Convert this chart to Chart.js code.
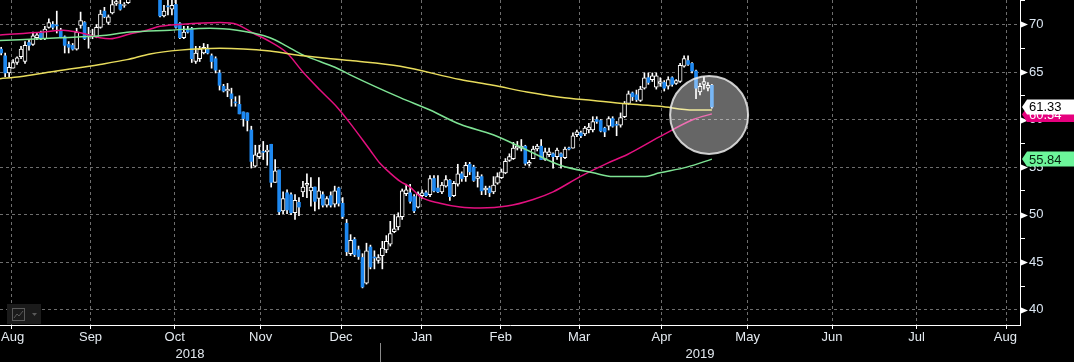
<!DOCTYPE html>
<html>
<head>
<meta charset="utf-8">
<script src="https://cdn.jsdelivr.net/npm/chart.js@4.4.1/dist/chart.umd.min.js"></script>
<style>
  html, body { margin: 0; padding: 0; background: #000; }
  #wrap { width: 1074px; height: 362px; }
</style>
</head>
<body>
<div id="wrap"><canvas id="chart" width="1074" height="362"></canvas></div>
<script>
// daily candles, mid Aug 2018 -> early May 2019 (index = trading day)
const opens = [
  67.4, 66.7, 64.9, 65.4, 66.0, 66.6, 66.1, 68.1, 67.9, 68.6,
  69.1, 68.5, 69.7, 70.0, 69.95, 69.4, 68.7, 67.9, 67.8, 67.4,
  69.9, 70.2, 68.9, 68.8, 68.7, 69.7, 71.4, 70.2, 71.2, 72.2,
  72.1, 72.0, 72.3, 72.8, 73.4, 73.9, 73.6, 74.1, 73.8, 74.2,
  73.4, 70.9, 71.95, 71.6, 72.1, 70.1, 68.6, 69.5, 69.6, 66.1,
  66.4, 67.0, 67.4, 66.7, 66.4, 64.9, 63.5, 63.0, 62.7, 61.85,
  61.6, 60.8, 60.7, 58.9, 55.1, 56.1, 56.65, 56.6, 57.4, 53.4,
  54.7, 50.4, 52.3, 52.1, 50.2, 51.3, 52.4, 53.1, 52.5, 52.9,
  51.7, 52.1, 51.0, 52.0, 51.1, 52.8, 51.2, 49.1, 45.9, 47.4,
  46.3, 45.5, 42.8, 46.6, 45.55, 45.2, 45.7, 46.3, 46.9, 48.2,
  48.7, 49.8, 52.2, 52.3, 51.9, 50.8, 52.0, 52.3, 52.1, 53.8,
  52.8, 52.4, 53.0, 53.6, 52.0, 53.2, 54.3, 54.0, 55.3, 55.0,
  53.8, 54.0, 52.6, 52.8, 52.4, 53.3, 53.9, 54.4, 55.7, 55.9,
  57.0, 57.0, 57.2, 55.3, 55.9, 56.9, 57.2, 55.8, 56.3, 56.4,
  56.1, 56.4, 56.0, 57.0, 57.0, 58.4, 58.6, 58.5, 58.9, 58.9,
  60.0, 59.9, 59.1, 59.3, 60.1, 59.5, 59.4, 60.3, 61.7, 62.8,
  62.6, 62.0, 63.3, 64.4, 64.2, 63.4, 63.8, 63.9, 63.5, 64.4,
  63.8, 64.0, 65.6, 66.2, 65.9, 65.1, 62.9, 63.7, 63.3, 63.6
];
const highs = [
  67.6, 67.0, 66.0, 66.3, 66.6, 67.7, 68.2, 68.4, 69.2, 69.1,
  69.3, 69.8, 70.6, 70.3, 71.4, 69.6, 68.8, 68.2, 68.0, 69.6,
  71.3, 70.3, 69.7, 69.5, 70.0, 71.5, 71.8, 71.0, 72.6, 72.8,
  72.8, 72.3, 73.0, 73.6, 74.2, 74.3, 74.5, 74.4, 74.6, 74.4,
  73.6, 72.0, 72.7, 72.7, 72.7, 70.2, 69.8, 69.8, 69.7, 67.7,
  67.7, 68.0, 67.9, 66.9, 66.6, 65.2, 63.7, 63.8, 63.3, 62.4,
  62.5, 60.8, 60.7, 59.3, 57.3, 57.3, 57.7, 57.3, 57.4, 55.8,
  54.7, 52.4, 52.6, 52.3, 52.1, 51.8, 53.5, 54.3, 53.9, 52.9,
  53.9, 52.4, 51.9, 52.4, 53.0, 52.9, 51.8, 49.5, 47.9, 47.6,
  46.7, 45.9, 47.0, 46.8, 46.2, 45.8, 47.2, 47.8, 49.3, 50.0,
  50.2, 52.7, 53.2, 53.2, 52.1, 52.4, 52.6, 52.5, 54.1, 54.1,
  54.1, 53.4, 54.1, 53.7, 53.5, 55.3, 54.5, 55.5, 55.5, 55.2,
  54.5, 54.2, 53.0, 53.0, 54.0, 54.4, 54.8, 55.9, 56.4, 57.6,
  57.7, 57.9, 57.3, 55.7, 57.2, 57.4, 57.9, 57.0, 57.0, 56.5,
  57.0, 56.5, 57.1, 57.1, 58.6, 58.9, 58.8, 59.3, 59.6, 60.3,
  60.3, 60.0, 59.2, 60.3, 60.3, 59.8, 60.7, 61.9, 63.0, 62.9,
  63.1, 63.5, 64.9, 64.9, 64.9, 64.9, 64.4, 64.1, 64.5, 64.5,
  64.2, 65.9, 66.7, 66.7, 66.0, 65.2, 63.8, 64.5, 63.9, 63.7
];
const lows = [
  66.8, 64.5, 64.5, 65.4, 65.8, 66.4, 65.9, 67.3, 67.8, 68.4,
  68.4, 68.4, 69.6, 69.5, 69.1, 68.6, 67.0, 67.0, 67.3, 67.3,
  69.6, 68.4, 67.5, 68.5, 68.6, 69.6, 70.7, 70.0, 71.1, 72.0,
  71.5, 71.8, 72.2, 72.7, 73.2, 73.3, 73.4, 73.5, 73.6, 73.2,
  70.8, 70.8, 71.0, 71.0, 69.6, 68.5, 68.5, 69.1, 66.0, 65.9,
  66.1, 66.9, 66.9, 65.4, 64.9, 63.1, 62.9, 62.4, 61.4, 61.4,
  60.6, 59.3, 58.8, 54.9, 55.0, 55.9, 55.8, 55.2, 52.9, 53.4,
  50.0, 50.1, 50.1, 50.0, 49.5, 49.9, 51.9, 51.8, 50.9, 50.4,
  50.6, 50.8, 50.8, 50.8, 50.8, 50.9, 49.6, 45.7, 45.7, 45.6,
  45.3, 42.3, 42.7, 44.3, 44.3, 44.9, 44.3, 46.0, 46.7, 48.1,
  48.4, 49.5, 52.0, 51.2, 50.2, 50.7, 51.7, 51.9, 51.9, 52.4,
  52.3, 52.2, 52.9, 51.5, 51.9, 53.0, 53.5, 53.5, 54.2, 53.5,
  52.9, 52.1, 52.1, 51.9, 52.2, 53.2, 53.8, 54.3, 55.6, 55.8,
  56.8, 56.7, 55.2, 55.1, 55.9, 56.7, 55.8, 55.7, 56.1, 54.9,
  55.8, 54.9, 55.9, 56.8, 57.0, 58.2, 58.1, 58.3, 58.6, 58.7,
  59.6, 58.7, 58.2, 58.9, 59.2, 58.3, 59.2, 60.2, 61.6, 62.0,
  61.9, 61.9, 63.2, 63.7, 64.0, 63.2, 63.5, 63.0, 63.2, 63.5,
  63.7, 63.9, 65.5, 65.7, 64.9, 62.2, 62.6, 63.2, 63.0, 61.2
];
const closes = [
  67.0, 64.9, 65.5, 66.0, 66.5, 67.4, 67.8, 67.8, 68.8, 68.9,
  68.5, 69.5, 70.2, 69.7, 69.85, 68.7, 67.8, 67.6, 67.4, 69.2,
  70.4, 68.5, 68.8, 68.9, 69.7, 71.1, 70.8, 70.8, 72.1, 72.4,
  71.6, 72.1, 72.7, 73.4, 73.9, 73.6, 74.2, 73.8, 74.3, 73.5,
  70.9, 71.4, 71.85, 72.0, 69.7, 68.6, 69.2, 69.2, 66.4, 67.0,
  67.4, 67.6, 67.0, 66.1, 65.2, 63.6, 63.0, 63.2, 62.2, 61.75,
  60.6, 60.1, 59.9, 55.6, 56.3, 56.5, 56.55, 56.8, 53.4, 54.6,
  50.3, 51.7, 50.5, 50.2, 51.5, 50.8, 52.9, 53.3, 52.9, 51.4,
  52.5, 51.0, 51.7, 51.0, 52.5, 51.2, 49.8, 46.1, 47.3, 45.8,
  45.6, 42.4, 46.2, 44.5, 45.45, 45.5, 46.5, 47.2, 48.0, 48.5,
  49.8, 52.5, 52.6, 51.4, 50.4, 52.2, 52.3, 52.0, 53.8, 52.5,
  52.4, 53.1, 53.7, 51.9, 53.3, 54.3, 53.8, 55.2, 54.5, 53.6,
  54.0, 52.5, 52.8, 52.3, 53.1, 54.0, 54.5, 55.6, 56.1, 57.0,
  57.2, 57.2, 55.4, 55.5, 56.9, 57.2, 55.8, 56.6, 56.6, 56.1,
  56.8, 56.1, 56.9, 56.9, 58.3, 58.7, 58.3, 59.1, 59.2, 59.8,
  59.8, 58.8, 58.7, 60.1, 59.3, 59.4, 60.2, 61.7, 62.7, 62.4,
  62.1, 63.2, 64.4, 63.9, 64.6, 64.6, 64.0, 63.3, 64.2, 63.7,
  64.1, 65.7, 66.4, 65.8, 65.1, 63.3, 63.5, 64.0, 63.6, 61.33
];

// moving averages (x = trading-day index)
const ma50Idx = [-0.3, 10.5, 15.6, 19.1, 24.9, 27.4, 32.4, 36.7, 40.0, 45.0, 55.1, 59.4, 63.4, 67.7, 72.0, 76.0, 80.3, 84.6, 87.9, 92.9, 95.4, 97.9, 100.5, 103.0, 105.5, 110.5, 115.6, 120.6, 127.4, 134.0, 139.0, 145.8, 152.6, 157.6, 165.9, 174.3, 179.0];
const ma50 = [68.9, 69.2, 69.4, 69.2, 68.6, 68.5, 69.0, 69.4, 69.8, 70.0, 70.2, 70.0, 69.1, 68.2, 67.0, 65.0, 63.1, 61.3, 59.6, 56.8, 55.4, 54.4, 53.5, 52.9, 51.9, 51.2, 50.8, 50.7, 50.9, 51.6, 52.4, 54.0, 55.4, 56.3, 58.2, 60.0, 60.6];
const ma100Idx = [-0.3, 14.8, 24.9, 32.4, 42.5, 52.6, 59.4, 63.4, 67.7, 72.0, 76.0, 80.3, 84.6, 87.9, 100.5, 108.0, 115.6, 123.9, 132.4, 140.8, 149.1, 154.1, 161.7, 165.9, 172.7, 179.0];
const ma100 = [68.3, 68.6, 68.8, 69.2, 69.4, 69.6, 69.4, 69.1, 68.6, 67.7, 66.8, 66.1, 65.4, 64.7, 62.3, 61.0, 59.5, 58.4, 56.8, 55.2, 54.4, 54.0, 54.0, 54.4, 55.0, 55.84];
const ma200Idx = [-0.3, 4.7, 12.3, 24.9, 31.7, 37.5, 45.0, 55.1, 67.7, 76.0, 87.9, 100.5, 115.6, 123.9, 132.4, 140.8, 149.1, 157.6, 165.9, 174.3, 179.0];
const ma200 = [64.3, 64.5, 65.0, 65.8, 66.3, 66.9, 67.3, 67.5, 67.2, 66.7, 66.2, 65.6, 64.2, 63.6, 62.9, 62.35, 62.0, 61.65, 61.4, 61.0, 61.0];

const monthLabels = ['Aug', 'Sep', 'Oct', 'Nov', 'Dec', 'Jan', 'Feb', 'Mar', 'Apr', 'May', 'Jun', 'Jul', 'Aug'];
const monthBounds = [12.5, 32.5, 54.9, 75.8, 95.4, 116.5, 135.1, 156.0, 176.7, 199.3, 219.2, 241.9];
const yearLabels = ['2018', '2019'];
const yTicks = [40, 45, 50, 55, 60, 65, 70];

// last values shown on the right axis
const tagValues = [55.84, 60.54, 61.33];
const tagTexts = ['55.84', '60.54', '61.33'];

// highlighted area around the latest bars
const focusIdx = 178.3;
const focusPrice = 60.49;

const xMin = -0.3, xMax = 256.6;
const yMin = 38.4, yMax = 72.57;

const BLUE = '#1e88f0';
const FONT = '13px "Liberation Sans", Arial, sans-serif';

const idx = closes.map((c, i) => i);
const wickData = idx.map(i => ({ x: i, y: [lows[i], highs[i]] }));
const upData = idx.filter(i => closes[i] >= opens[i]).map(i => ({ x: i, y: [opens[i], closes[i]] }));
const downData = idx.filter(i => closes[i] < opens[i]).map(i => ({ x: i, y: [opens[i], closes[i]] }));

function maLine(xs, ys, color) {
    return {
        type: 'line',
        data: xs.map((x, i) => ({ x: x, y: ys[i] })),
        borderColor: color,
        borderWidth: 1.5,
        pointRadius: 0,
        cubicInterpolationMode: 'monotone',
        order: 2
    };
}

function drawTag(ctx, x, y, text, bg, fg) {
    const h = 15;
    ctx.beginPath();
    ctx.moveTo(x, y);
    ctx.lineTo(x + 5, y - h / 2);
    ctx.lineTo(x + 52, y - h / 2);
    ctx.lineTo(x + 52, y + h / 2);
    ctx.lineTo(x + 5, y + h / 2);
    ctx.closePath();
    ctx.fillStyle = bg;
    ctx.fill();
    ctx.fillStyle = fg;
    ctx.textAlign = 'left';
    ctx.textBaseline = 'middle';
    ctx.fillText(text, x + 7, y + 1);
}

// no extra room for half-labels: the plot runs to the top edge
function noScalePadding(s) {
    s.paddingTop = 0;
    s.paddingBottom = 0;
    s.paddingLeft = 0;
    s.paddingRight = 0;
}

const decorations = {
    id: 'decorations',
    beforeDraw(chart) {
        const ctx = chart.ctx;
        ctx.save();
        ctx.fillStyle = '#000';
        ctx.fillRect(0, 0, chart.width, chart.height);
        ctx.restore();
    },
    afterDraw(chart) {
        const ctx = chart.ctx;
        const xs = chart.scales.x;
        const ys = chart.scales.y;
        const area = chart.chartArea;
        ctx.save();
        ctx.font = FONT;

        // month labels
        ctx.fillStyle = '#e4eaf0';
        ctx.textBaseline = 'middle';
        ctx.textAlign = 'center';
        for (let i = 0; i < monthLabels.length; i++) {
            let c;
            if (i === 0) c = monthBounds[0] - 11;
            else if (i === monthLabels.length - 1) c = monthBounds[i - 1] + 11;
            else c = (monthBounds[i - 1] + monthBounds[i]) / 2;
            let px = xs.getPixelForValue(c);
            const w = ctx.measureText(monthLabels[i]).width;
            px = Math.max(px, area.left + 1 + w / 2);
            px = Math.min(px, area.right - 2 - w / 2);
            ctx.fillText(monthLabels[i], px, area.bottom + 12);
        }

        // years, split at January
        const janPx = xs.getPixelForValue(monthBounds[4]);
        ctx.fillText(yearLabels[0], (area.left + janPx) / 2, area.bottom + 29);
        ctx.fillText(yearLabels[1], (janPx + area.right) / 2, area.bottom + 29);
        ctx.strokeStyle = '#8a8a8a';
        ctx.lineWidth = 1;
        ctx.beginPath();
        ctx.moveTo(Math.round(janPx) + 0.5, area.bottom + 18);
        ctx.lineTo(Math.round(janPx) + 0.5, chart.height);
        ctx.stroke();

        // arrow marks on the price axis
        ctx.fillStyle = '#fff';
        yTicks.forEach(v => {
            const py = Math.round(ys.getPixelForValue(v)) + 0.5;
            ctx.beginPath();
            ctx.moveTo(area.right + 1, py - 3);
            ctx.lineTo(area.right + 8, py);
            ctx.lineTo(area.right + 1, py + 3);
            ctx.closePath();
            ctx.fill();
        });

        // last value tags
        const tagColors = [['#6cf59a', '#05200f'], ['#e6007e', '#ffffff'], ['#ffffff', '#000000']];
        tagValues.forEach((v, i) => {
            drawTag(ctx, area.right + 2, ys.getPixelForValue(v), tagTexts[i], tagColors[i][0], tagColors[i][1]);
        });

        // chart-type button, bottom left
        ctx.fillStyle = '#1b1b1b';
        ctx.fillRect(7, 304, 34, 20);
        ctx.strokeStyle = '#5a5a5a';
        ctx.strokeRect(12.5, 308.5, 12, 12);
        ctx.beginPath();
        ctx.moveTo(14, 318);
        ctx.lineTo(17, 314);
        ctx.lineTo(19, 316);
        ctx.lineTo(23, 311);
        ctx.stroke();
        ctx.fillStyle = '#5a5a5a';
        ctx.beginPath();
        ctx.moveTo(32, 313);
        ctx.lineTo(37, 313);
        ctx.lineTo(34.5, 316);
        ctx.closePath();
        ctx.fill();
        ctx.restore();
    }
};

new Chart(document.getElementById('chart'), {
    type: 'bar',
    data: {
        datasets: [
            {
                type: 'bubble',
                data: [{ x: focusIdx, y: focusPrice, r: 39 }],
                backgroundColor: 'rgba(255,255,255,0.4)',
                borderColor: 'rgba(235,235,235,0.85)',
                borderWidth: 2,
                order: 0
            },
            maLine(ma200Idx, ma200, '#e8dc5c'),
            maLine(ma100Idx, ma100, '#7ee394'),
            maLine(ma50Idx, ma50, '#e3107f'),
            {
                data: upData,
                backgroundColor: '#000',
                borderColor: '#fff',
                borderWidth: 1,
                borderSkipped: false,
                barThickness: 4,
                grouped: false,
                order: 4
            },
            {
                data: downData,
                backgroundColor: BLUE,
                borderColor: BLUE,
                borderWidth: 0,
                borderSkipped: false,
                barThickness: 3,
                grouped: false,
                order: 4
            },
            {
                data: wickData,
                backgroundColor: '#fff',
                barThickness: 1,
                grouped: false,
                order: 6
            }
        ]
    },
    options: {
        responsive: false,
        devicePixelRatio: 1,
        animation: false,
        events: [],
        layout: { padding: 0, autoPadding: false },
        plugins: { legend: { display: false }, tooltip: { enabled: false } },
        scales: {
            x: {
                type: 'linear',
                min: xMin,
                max: xMax,
                offset: false,
                afterBuildTicks: s => { s.ticks = monthBounds.map(v => ({ value: v })); },
                afterFit: s => { s.height = 37; noScalePadding(s); },
                ticks: { autoSkip: false, callback: () => '', font: { size: 1 } },
                grid: { color: '#6e6e6e', tickColor: '#fff', tickLength: 4, drawTicks: true },
                border: { color: '#fff', width: 1, dash: [3, 3] }
            },
            y: {
                position: 'right',
                min: yMin,
                max: yMax,
                afterBuildTicks: s => {
                    const t = [];
                    for (let v = 40; v <= 72.5; v += 2.5) t.push({ value: v });
                    s.ticks = t;
                },
                afterFit: s => { s.width = 54; noScalePadding(s); },
                ticks: {
                    autoSkip: false,
                    padding: 4,
                    color: '#dbe6f2',
                    font: { family: '"Liberation Sans", Arial, sans-serif', size: 13 },
                    callback: v => (yTicks.includes(v) ? String(v) : '')
                },
                grid: {
                    color: c => (yTicks.includes(c.tick.value) ? '#6e6e6e' : 'rgba(0,0,0,0)'),
                    tickColor: c => (yTicks.includes(c.tick.value) ? 'rgba(0,0,0,0)' : '#fff'),
                    tickLength: 5,
                    drawTicks: true
                },
                border: { color: '#fff', width: 1, dash: [3, 3] }
            }
        }
    },
    plugins: [decorations]
});
</script>
</body>
</html>
